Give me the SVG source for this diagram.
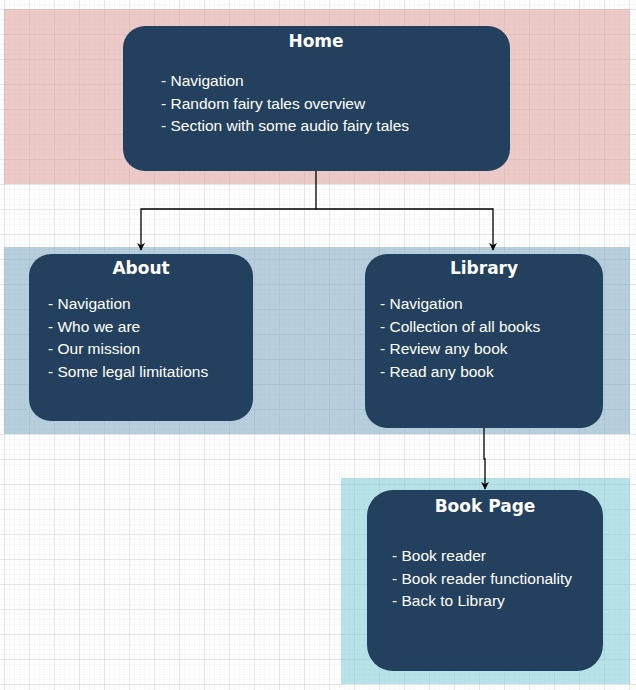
<svg xmlns="http://www.w3.org/2000/svg" width="636" height="690" viewBox="0 0 636 690">
<style>
.node{fill:#23415e}
.title{font-family:"DejaVu Sans",sans-serif;font-weight:bold;font-size:17px;fill:#fff;text-anchor:middle}
.body{font-family:"Liberation Sans",Arial,sans-serif;font-size:15.5px;fill:#fff}
.edge{fill:none;stroke:#000;stroke-width:1.3}
</style>
<defs>
<pattern id="minor" x="4" y="9" width="5" height="5" patternUnits="userSpaceOnUse">
<path d="M0 0H5M0 0V5" fill="none" stroke="#f1f1f1" stroke-width="1"/>
</pattern>
<pattern id="major" x="4" y="9" width="25" height="25" patternUnits="userSpaceOnUse">
<path d="M0 0H25M0 0V25" fill="none" stroke="#d3d3d3" stroke-width="1"/>
</pattern>
<marker id="arrow" viewBox="0 0 10 10" refX="9" refY="5" markerWidth="8" markerHeight="8" markerUnits="userSpaceOnUse" orient="auto">
<path d="M0 0L10 5L0 10L3 5Z" fill="#000"/>
</marker>
</defs>
<rect width="636" height="690" fill="#fff"/>
<rect width="636" height="690" fill="url(#minor)"/>
<rect width="636" height="690" fill="url(#major)"/>
<g id="bands">
<rect x="4" y="9" width="626" height="175" fill="#dc9f9b" opacity="0.55"/>
<rect x="4" y="247" width="626" height="187" fill="#7ba7c0" opacity="0.55"/>
<rect x="341" y="478" width="289" height="206" fill="#7cccd6" opacity="0.55"/>
</g>
<g id="connectors">
<path class="edge" d="M316 171V209H141V250" marker-end="url(#arrow)"/>
<path class="edge" d="M316 209H493V250" marker-end="url(#arrow)"/>
<path class="edge" d="M484 428V459H485V489" marker-end="url(#arrow)"/>
</g>
<g id="home">
<rect class="node" x="123" y="26" width="387" height="145" rx="22"/>
<text class="title" x="316" y="47">Home</text>
<text class="body" x="161" y="86">- Navigation</text>
<text class="body" x="161" y="108.5">- Random fairy tales overview</text>
<text class="body" x="161" y="131">- Section with some audio fairy tales</text>
</g>
<g id="about">
<rect class="node" x="29" y="254" width="224" height="167" rx="22"/>
<text class="title" x="141" y="274">About</text>
<text class="body" x="48" y="309">- Navigation</text>
<text class="body" x="48" y="331.5">- Who we are</text>
<text class="body" x="48" y="354">- Our mission</text>
<text class="body" x="48" y="376.5">- Some legal limitations</text>
</g>
<g id="library">
<rect class="node" x="365" y="254" width="238" height="174" rx="22"/>
<text class="title" x="484" y="274">Library</text>
<text class="body" x="380" y="309">- Navigation</text>
<text class="body" x="380" y="331.5">- Collection of all books</text>
<text class="body" x="380" y="354">- Review any book</text>
<text class="body" x="380" y="376.5">- Read any book</text>
</g>
<g id="bookpage">
<rect class="node" x="367" y="490" width="236" height="181" rx="26"/>
<text class="title" x="485" y="512">Book Page</text>
<text class="body" x="392" y="561">- Book reader</text>
<text class="body" x="392" y="583.5">- Book reader functionality</text>
<text class="body" x="392" y="606">- Back to Library</text>
</g>
</svg>
